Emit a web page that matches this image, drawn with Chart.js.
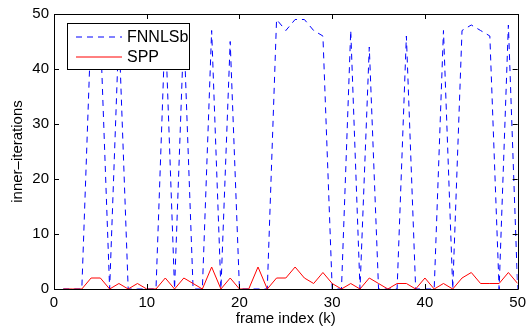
<!DOCTYPE html>
<html>
<head>
<meta charset="utf-8">
<script src="https://cdn.jsdelivr.net/npm/chart.js@4.4.1/dist/chart.umd.min.js"></script>
<style>
  html, body { margin: 0; padding: 0; background: #fff; }
  #wrap { width: 531px; height: 331px; }
</style>
</head>
<body>
<div id="wrap"><canvas id="chart"></canvas></div>
<script>
// frame index k
const frames = [1, 2, 3, 4, 5, 6, 7, 8, 9, 10,
    11, 12, 13, 14, 15, 16, 17, 18, 19, 20,
    21, 22, 23, 24, 25, 26, 27, 28, 29, 30,
    31, 32, 33, 34, 35, 36, 37, 38, 39, 40,
    41, 42, 43, 44, 45, 46, 47, 48, 49, 50];

// inner iterations per frame
const fnnlsb = [0, 0, 0, 48, 47, 0, 47, 0, 0, 0,
    0, 48, 0, 47, 0, 0, 47, 0, 45, 0,
    0, 0, 0, 49, 47, 49, 49, 47, 46, 0,
    0, 47, 0, 44, 0, 0, 0, 46, 0, 0,
    0, 47, 0, 47, 48, 47, 46, 0, 48, 0];

const spp = [0, 0, 0, 2, 2, 0, 1, 0, 1, 0,
    0, 2, 0, 2, 1, 0, 4, 0, 2, 0,
    0, 4, 0, 2, 2, 4, 2, 1, 3, 1,
    0, 1, 0, 2, 1, 0, 1, 1, 0, 2,
    0, 1, 0, 2, 3, 1, 1, 1, 3, 1];

const xTicks = [0, 10, 20, 30, 40, 50];
const yTicks = [0, 10, 20, 30, 40, 50];

const FONT = 'Liberation Sans, Arial, Helvetica, sans-serif';
const BLUE = 'rgb(0, 0, 255)';
const RED = 'rgb(255, 0, 0)';
const DASH = [6, 5];

function toPoints(ys) {
    return frames.map(function(k, i) { return { x: k, y: ys[i] }; });
}

// matlab style box with inward ticks, plus the legend inside the axes
const boxPlugin = {
    id: 'box',
    afterDraw: function(chart) {
        const ctx = chart.ctx;
        const a = chart.chartArea;
        const xs = chart.scales.x;
        const ys = chart.scales.y;
        const len = 5;
        ctx.save();
        ctx.strokeStyle = '#000';
        ctx.lineWidth = 1;
        ctx.beginPath();
        ctx.rect(Math.round(a.left) + 0.5, Math.round(a.top) + 0.5,
            Math.round(a.right - a.left), Math.round(a.bottom - a.top));
        xTicks.forEach(function(v) {
            const px = Math.round(xs.getPixelForValue(v)) + 0.5;
            ctx.moveTo(px, a.bottom);
            ctx.lineTo(px, a.bottom - len);
            ctx.moveTo(px, a.top);
            ctx.lineTo(px, a.top + len);
        });
        yTicks.forEach(function(v) {
            const py = Math.round(ys.getPixelForValue(v)) + 0.5;
            ctx.moveTo(a.left, py);
            ctx.lineTo(a.left + len, py);
            ctx.moveTo(a.right, py);
            ctx.lineTo(a.right - len, py);
        });
        ctx.stroke();

        const lx = 67, ly = 23, lw = 122, lh = 46;
        ctx.fillStyle = '#fff';
        ctx.fillRect(lx, ly, lw, lh);
        ctx.strokeRect(lx + 0.5, ly + 0.5, lw, lh);

        const entries = [
            { label: 'FNNLSb', color: BLUE, dash: DASH },
            { label: 'SPP', color: RED, dash: [] }
        ];
        ctx.font = '16px ' + FONT;
        ctx.textBaseline = 'middle';
        ctx.textAlign = 'left';
        entries.forEach(function(e, i) {
            const y = ly + 14 + i * 20;
            ctx.beginPath();
            ctx.strokeStyle = e.color;
            ctx.setLineDash(e.dash);
            ctx.moveTo(76, y);
            ctx.lineTo(122, y);
            ctx.stroke();
            ctx.setLineDash([]);
            ctx.fillStyle = '#000';
            ctx.fillText(e.label, 127, y + 1);
        });
        ctx.restore();
    }
};

new Chart(document.getElementById('chart'), {
    type: 'line',
    data: {
        datasets: [{
            label: 'FNNLSb',
            data: toPoints(fnnlsb),
            borderColor: BLUE,
            borderWidth: 1,
            borderDash: DASH,
            pointRadius: 0,
            tension: 0,
            order: 2
        }, {
            label: 'SPP',
            data: toPoints(spp),
            borderColor: RED,
            borderWidth: 1,
            pointRadius: 0,
            tension: 0,
            order: 1
        }]
    },
    options: {
        responsive: true,
        maintainAspectRatio: false,
        animation: false,
        layout: { padding: { left: 0, right: 8, top: 14, bottom: 0 } },
        plugins: {
            legend: { display: false },
            tooltip: { enabled: false }
        },
        scales: {
            x: {
                type: 'linear',
                min: 0,
                max: 50,
                grid: { display: false, drawTicks: false },
                border: { display: false },
                afterBuildTicks: function(s) { s.ticks = xTicks.map(function(v) { return { value: v }; }); },
                afterFit: function(s) { s.height = 42; },
                ticks: { color: '#000', padding: 5, maxRotation: 0, font: { family: FONT, size: 15 } },
                title: { display: true, text: 'frame index (k)', color: '#000', padding: { top: 0, bottom: 3 }, font: { family: FONT, size: 15 } }
            },
            y: {
                min: 0,
                max: 50,
                grid: { display: false, drawTicks: false },
                border: { display: false },
                afterBuildTicks: function(s) { s.ticks = yTicks.map(function(v) { return { value: v }; }); },
                afterFit: function(s) { s.width = 54; },
                ticks: { color: '#000', padding: 5, font: { family: FONT, size: 15 } },
                title: { display: true, text: 'inner–iterations', color: '#000', padding: { top: 9, bottom: 0 }, font: { family: FONT, size: 15 } }
            }
        }
    },
    plugins: [boxPlugin]
});
</script>
</body>
</html>
